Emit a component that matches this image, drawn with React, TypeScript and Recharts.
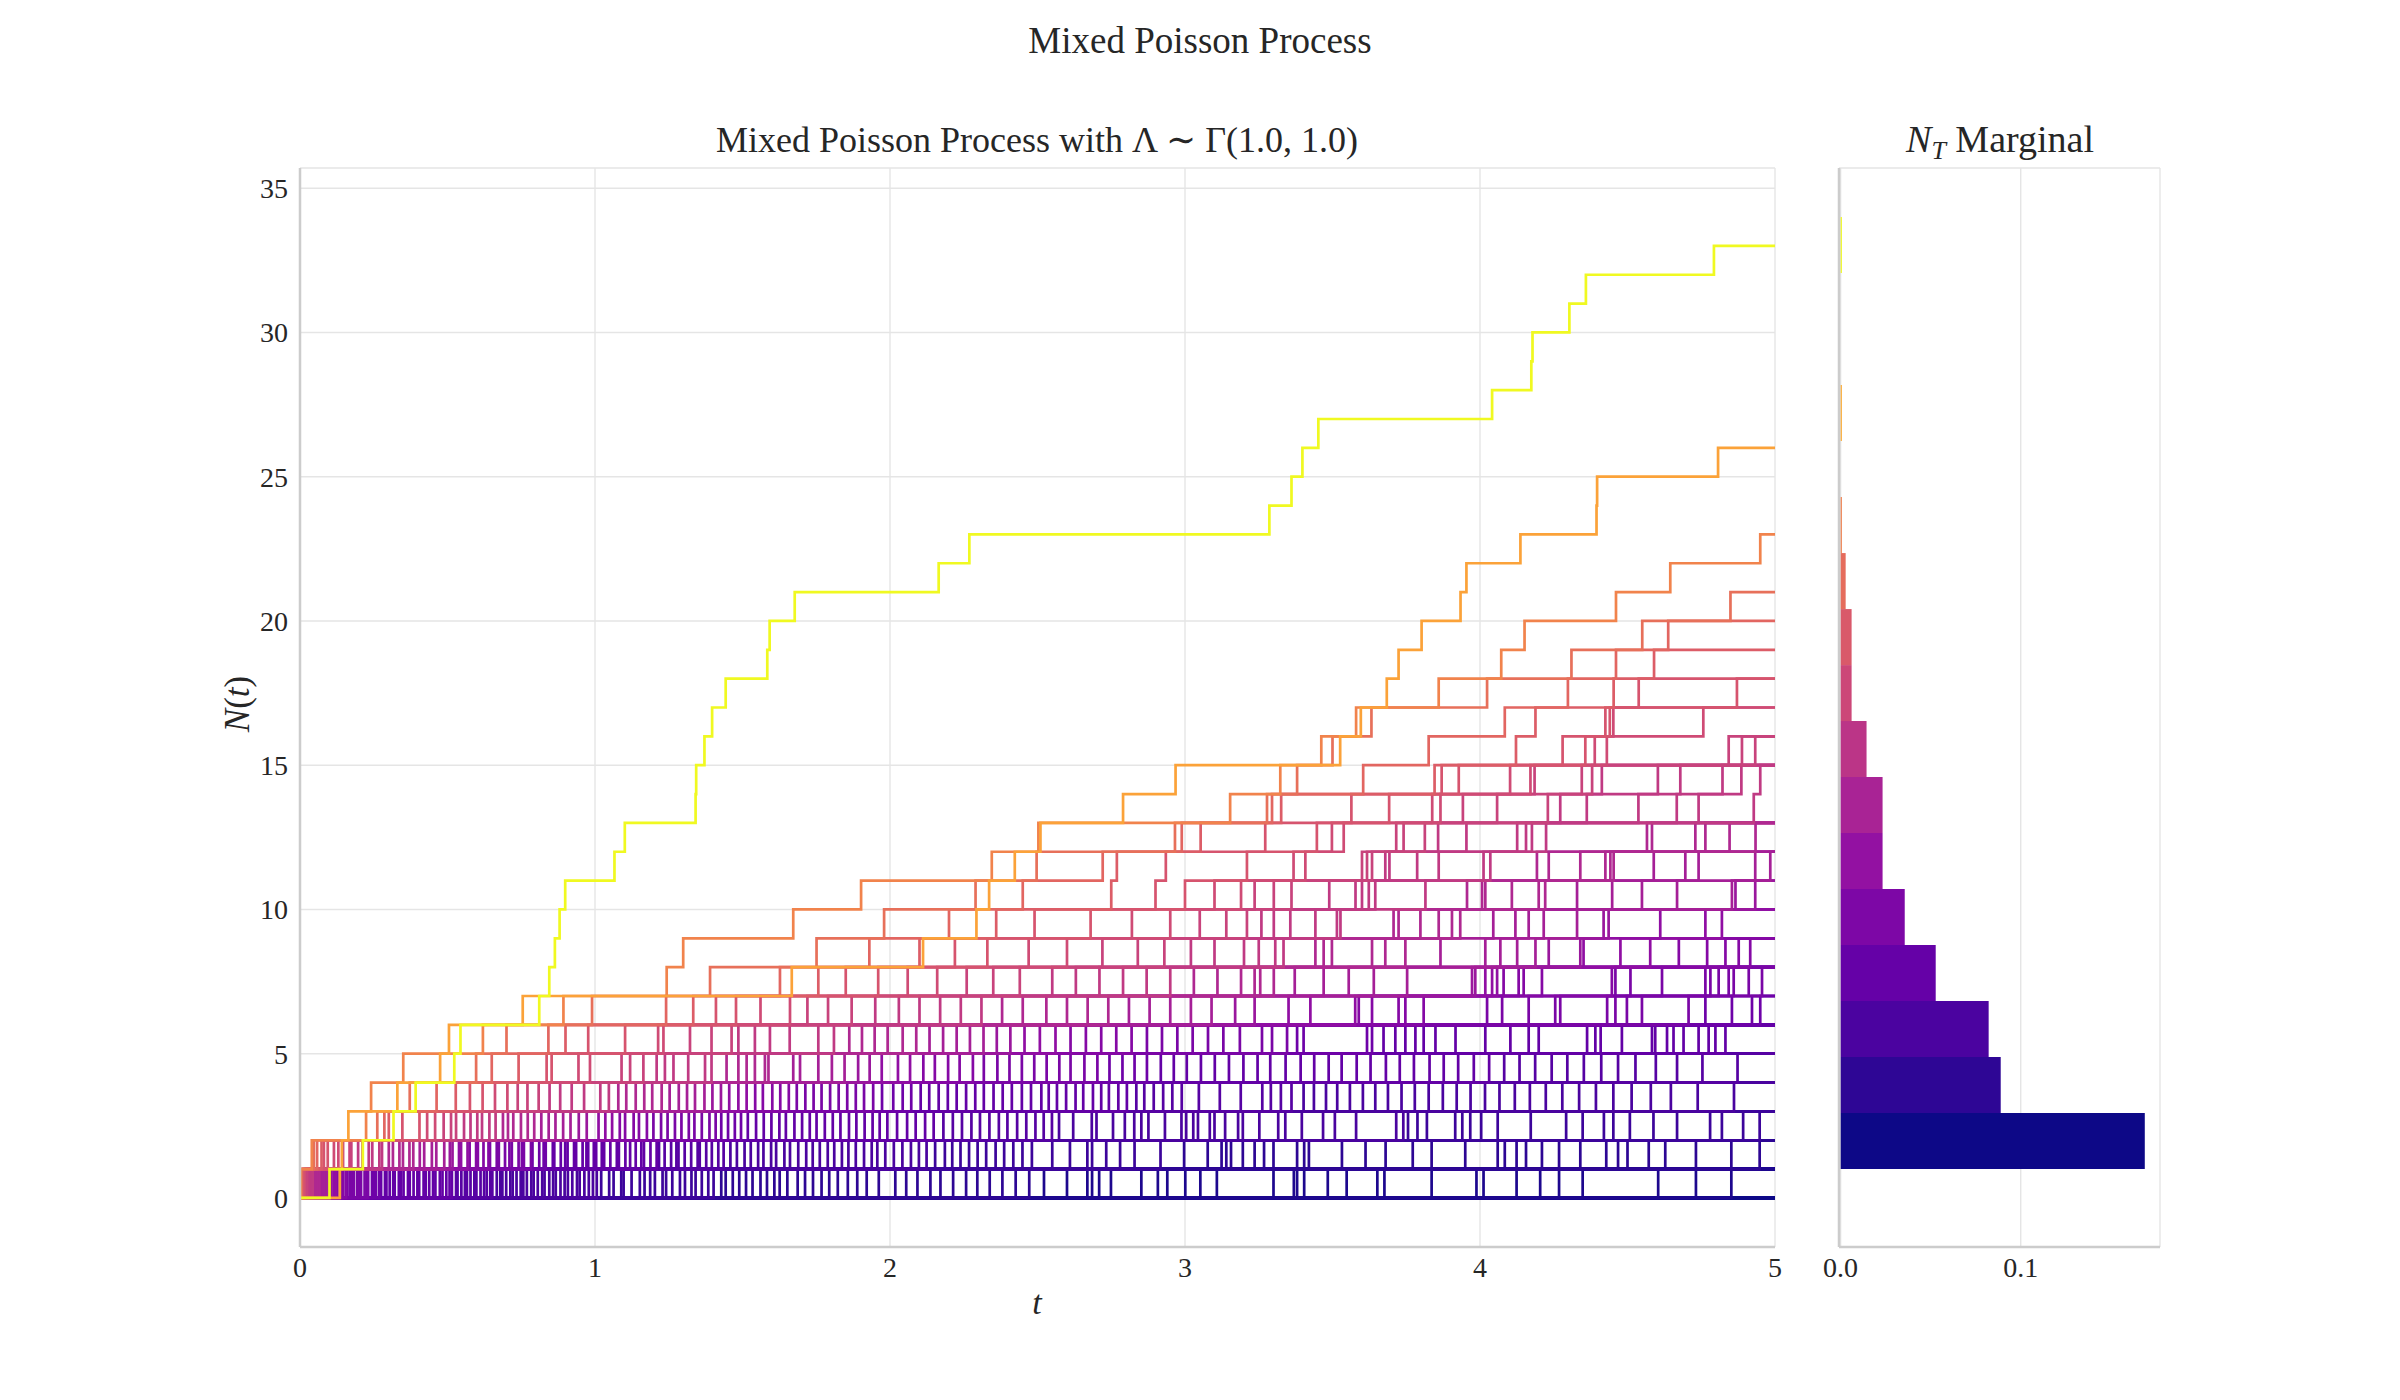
import React from 'react';
import { LineChart, Line, XAxis, YAxis, CartesianGrid, ComposedChart, ReferenceArea } from 'recharts';

const FONT = '"Liberation Serif", "DejaVu Serif", serif';
const T_END = 5;

// Two sample paths followed on their own (jump times of N(t)).
const yellowPathJumps = [0.10, 0.213, 0.317, 0.392, 0.523, 0.544, 0.811, 0.845, 0.864, 0.880, 0.899, 1.066, 1.101, 1.341, 1.343, 1.371, 1.397, 1.443, 1.584, 1.592, 1.677, 2.165, 2.269, 3.286, 3.361, 3.398, 3.452, 4.041, 4.174, 4.178, 4.303, 4.359, 4.793];
const orangePathJumps = [0.135, 0.142, 0.164, 0.33, 0.475, 0.505, 0.755, 1.667, 2.112, 2.293, 2.336, 2.423, 2.51, 2.79, 2.968, 3.526, 3.596, 3.684, 3.724, 3.802, 3.934, 3.954, 4.137, 4.395, 4.397, 4.807];

// Remaining paths: number that never jump, and the times at which some path steps from level k to k+1.
const flatPathCount = 40;
const up0 = [0.002,0.004,0.005,0.007,0.01,0.011,0.013,0.016,0.019,0.021,0.024,0.026,0.03,0.033,0.035,0.039,0.043,0.045,0.049,0.054,0.057,0.062,0.066,0.071,0.074,0.079,0.086,0.09,0.097,0.103,0.107,0.116,0.121,0.127,0.136,0.141,0.147,0.156,0.161,0.17,0.176,0.183,0.194,0.199,0.207,0.219,0.226,0.231,0.244,0.25,0.258,0.269,0.275,0.288,0.293,0.304,0.316,0.321,0.335,0.342,0.351,0.366,0.372,0.385,0.398,0.404,0.419,0.426,0.438,0.451,0.459,0.474,0.483,0.496,
  0.507,0.515,0.529,0.534,0.547,0.559,0.566,0.578,0.591,0.598,0.612,0.624,0.633,0.645,0.652,0.667,0.679,0.686,0.699,0.713,0.721,0.734,0.748,0.757,0.769,0.784,0.792,0.806,0.821,0.829,0.845,0.858,0.867,0.883,0.897,0.908,0.923,0.939,0.948,0.964,0.979,0.993,
  1.006,1.021,1.048,1.063,1.089,1.097,1.124,1.152,1.168,1.187,1.203,1.229,1.241,1.262,1.288,1.305,1.327,1.341,1.362,1.384,1.402,1.428,1.443,1.467,1.489,
  1.512,1.534,1.561,1.583,1.608,1.626,1.652,1.687,1.712,1.739,1.768,1.794,1.823,1.857,1.889,1.921,1.962,
  2.018,2.055,2.093,2.137,2.171,2.214,2.258,2.296,2.338,2.381,2.426,2.472,
  2.522,2.6,2.669,2.685,2.709,2.749,2.852,2.908,2.94,3.001,3.052,3.108,3.3,3.369,3.38,3.404,3.484,3.548,3.652,3.676,3.836,3.988,4.012,4.124,4.204,4.268,4.348,4.604,4.732,4.852];
const up1 = [0.04,0.047,0.058,0.073,0.081,0.094,0.115,0.13,0.146,0.168,0.174,0.197,0.212,0.233,0.245,0.269,0.278,0.301,0.315,0.337,0.349,0.371,0.384,0.406,0.421,0.447,0.462,0.489,
  0.508,0.517,0.539,0.546,0.568,0.575,0.597,0.603,0.622,0.639,0.644,0.667,0.674,0.695,0.71,0.718,0.741,0.752,0.759,0.783,0.788,0.811,0.826,0.833,0.857,0.862,0.884,0.899,0.907,0.929,0.936,0.958,0.971,0.977,0.996,
  1.004,1.023,1.031,1.052,1.074,1.081,1.103,1.119,1.138,1.157,1.166,1.188,1.209,1.217,1.236,1.258,1.276,1.283,1.304,1.326,1.348,1.355,1.377,1.396,1.418,1.436,1.459,1.481,
  1.507,1.528,1.553,1.571,1.597,1.614,1.642,1.661,1.689,1.716,1.738,1.762,1.789,1.811,1.837,1.859,1.884,1.912,1.938,1.957,1.984,
  2.013,2.042,2.071,2.098,2.124,2.153,2.186,2.211,2.239,2.268,2.297,2.326,2.358,2.387,2.418,2.449,2.481,
  2.55,2.61,2.669,2.685,2.733,2.78,2.829,2.917,2.997,3.077,3.124,3.14,3.156,3.196,3.236,3.268,3.3,3.38,3.404,3.42,3.532,3.612,3.68,3.772,3.836,3.95,4.06,4.084,4.124,4.156,4.21,4.268,4.34,4.428,4.468,4.5,4.572,4.628,4.732,4.852,4.948];
const up2 = [0.224,0.262,0.286,0.301,0.347,0.405,0.431,0.458,0.487,
  0.512,0.529,0.556,0.578,0.601,0.617,0.642,0.663,0.688,0.705,0.723,0.749,0.772,0.794,0.818,0.843,0.866,0.892,0.917,0.945,0.972,
  1.012,1.035,1.058,1.084,1.102,1.131,1.149,1.176,1.198,1.224,1.246,1.271,1.293,1.318,1.337,1.362,1.388,1.409,1.428,1.451,1.474,1.495,
  1.518,1.546,1.572,1.598,1.625,1.647,1.676,1.702,1.728,1.751,1.779,1.806,1.832,1.861,1.886,1.914,1.941,1.965,1.991,
  2.024,2.058,2.087,2.119,2.148,2.181,2.213,2.244,2.276,2.305,2.337,2.369,2.398,2.431,2.462,2.493,
  2.521,2.549,2.573,2.621,2.684,2.7,2.756,2.796,2.828,2.852,2.876,2.932,2.988,3.004,3.028,3.044,3.084,3.1,3.136,3.18,3.196,3.252,3.316,3.34,3.396,3.468,3.508,3.58,3.716,3.74,3.756,3.788,3.82,3.916,3.94,3.967,4.004,4.06,4.172,4.292,4.348,4.42,4.452,4.508,4.588,4.668,4.78,4.82,4.892,4.948];
const up3 = [0.241,0.372,0.463,
  0.528,0.576,0.619,0.661,0.703,0.738,0.771,0.809,0.846,0.882,0.921,0.963,
  1.018,1.047,1.079,1.106,1.138,1.167,1.194,1.226,1.253,1.284,1.312,1.339,1.371,1.398,1.427,1.455,1.486,
  1.514,1.543,1.569,1.601,1.628,1.657,1.684,1.713,1.741,1.768,1.797,1.826,1.855,1.884,1.912,1.943,1.973,
  2.011,2.043,2.072,2.104,2.133,2.165,2.196,2.226,2.258,2.289,2.318,2.351,2.382,2.413,2.447,2.478,
  2.513,2.538,2.566,2.597,2.629,2.655,2.688,2.716,2.742,2.774,2.803,2.835,2.862,2.894,2.926,2.957,2.989,3.047,3.118,3.189,
  3.262,3.291,3.325,3.361,3.402,3.437,3.478,3.516,3.559,3.603,3.645,3.688,3.734,3.779,3.826,3.874,3.921,3.968,4.017,4.066,4.118,4.169,4.223,4.279,4.336,4.393,4.452,4.514,4.579,4.647,4.738,4.861];
const up4 = [0.35,
  0.597,0.65,0.741,0.836,0.853,0.944,0.983,
  1.09,1.119,1.164,1.209,1.237,1.266,1.316,1.373,1.395,1.446,1.486,
  1.514,1.542,1.576,1.588,1.672,1.695,1.757,1.803,1.846,1.892,1.931,1.972,
  2.027,2.068,2.113,2.152,2.197,2.236,2.281,2.318,2.364,2.405,2.447,2.489,
  2.531,2.574,2.612,2.659,2.703,2.744,2.788,2.829,2.871,2.918,2.962,3.006,3.054,3.101,3.149,3.198,
  3.246,3.289,3.341,3.392,3.438,3.487,3.531,3.582,3.629,3.681,3.728,3.776,3.829,3.877,3.926,3.979,4.031,4.082,4.134,4.187,4.243,4.296,4.352,4.411,4.468,4.527,4.596,4.668,4.754,4.873];
const up5 = [0.62,0.7,0.842,0.9,0.977,
  1.102,1.214,1.232,1.322,1.395,1.463,1.486,
  1.542,1.593,1.66,1.757,1.81,1.862,1.905,1.948,1.992,
  2.043,2.089,2.134,2.18,2.226,2.271,2.317,2.362,2.408,2.456,
  2.508,2.561,2.612,2.664,2.716,2.767,2.819,2.871,2.922,2.974,3.026,3.078,3.13,3.186,
  3.261,3.295,3.346,3.38,3.402,3.617,3.634,3.673,3.713,3.747,3.781,3.809,3.849,3.917,4.018,4.103,4.165,4.199,4.363,4.391,4.409,4.481,4.583,4.594,4.634,4.656,4.69,4.741,4.775,4.798,4.832];
const up6 = [0.893,0.99,
  1.241,1.333,1.41,1.478,
  1.561,1.661,1.72,1.79,1.87,1.95,
  2.03,2.1,2.17,2.24,2.31,2.38,2.45,
  2.53,2.6,2.67,2.74,2.81,2.88,2.95,3.02,3.09,3.17,
  3.236,3.351,3.425,3.577,3.589,3.634,3.724,3.747,3.809,4.024,4.075,4.165,4.255,4.272,4.431,4.459,4.498,4.549,4.707,4.764,4.854,4.922,4.95];
const up7 = [1.243,1.39,
  1.627,1.757,1.85,1.96,
  2.06,2.16,2.26,2.35,2.44,
  2.55,2.63,2.71,2.79,2.87,2.95,3.03,3.11,3.19,
  3.236,3.255,3.301,3.372,3.47,3.555,3.64,3.753,3.973,3.984,4.018,4.041,4.058,4.08,4.131,4.148,4.21,4.447,4.459,4.51,4.617,4.764,4.781,4.809,4.843,4.86,4.911,4.956];
const up8 = [1.299,1.751,1.93,
  2.1,2.22,2.33,2.47,
  2.6,2.72,2.84,2.93,3.02,3.1,3.2,
  3.25,3.306,3.334,3.442,3.47,3.498,3.634,3.679,3.747,3.866,4.018,4.069,4.126,4.188,4.233,4.34,4.351,4.476,4.577,4.674,4.77,4.832,4.877,4.916];
const up9 = [1.672,1.98,
  2.2,2.36,2.49,
  2.68,2.82,2.95,3.05,3.14,3.21,
  3.259,3.301,3.357,3.442,3.515,3.527,3.707,3.724,3.798,3.86,3.905,3.933,4.045,4.12,4.165,4.216,4.329,4.419,4.436,4.611,4.764,4.82];
const up10 = [1.902,2.29,2.45,
  2.75,2.9,3.0,3.1,3.19,
  3.236,3.301,3.361,3.489,3.578,3.6,3.623,3.645,3.815,3.956,4.007,4.018,4.108,4.199,4.221,4.329,4.448,4.549,4.668,4.854,4.866,4.933];
const up11 = [2.345,2.497,2.721,2.769,2.935,3.21,3.368,3.408,3.6,3.617,3.634,3.679,3.693,3.787,3.86,4.012,4.035,4.193,4.233,4.34,4.425,4.442,4.453,4.589,4.696,4.741,4.933,4.984];
const up12 = [2.503,2.966,2.989,3.053,3.272,3.447,3.498,3.538,3.716,3.741,3.813,3.858,3.954,4.126,4.156,4.176,4.224,4.566,4.583,4.73,4.764,4.846,4.934];
const up13 = [3.153,3.278,3.295,3.326,3.564,3.692,3.838,3.866,3.942,4.058,4.23,4.272,4.362,4.537,4.667,4.741,4.928];
const up14 = [3.323,3.38,3.604,3.846,3.87,3.928,4.102,4.171,4.185,4.345,4.38,4.413,4.603,4.679,4.822,4.886,4.95];
const up15 = [3.462,3.5,3.826,4.122,4.28,4.357,4.389,4.43,4.843,4.888,4.933];
const up16 = [3.58,3.632,4.084,4.188,4.425,4.44,4.452,4.757];
const up17 = [3.86,4.024,4.298,4.453,4.538,4.871];
const up18 = [4.072,4.31,4.461,4.59];
const up19 = [4.151,4.55,4.638];
const up20 = [4.461,4.849];
const up21 = [4.645];
const up22 = [4.95];

// Marginal histogram of N_T: density per bin over [1, 34] with 17 bins.
const marginalRange = [1, 34];
const marginalDensity = [0.1689, 0.0889, 0.0822, 0.0528, 0.0356, 0.0233, 0.0233, 0.0144, 0.0061, 0.0061, 0.0028, 0.0007, 0, 0.0007, 0, 0, 0.0007];

const xTicks = [0, 1, 2, 3, 4, 5];
const yTicks = [0, 5, 10, 15, 20, 25, 30, 35];
const marginalTicks = [0, 0.1];

const PLASMA = ['#0d0887', '#41049d', '#6a00a8', '#8f0da4', '#b12a90', '#cc4778', '#e16462', '#f2844b', '#fca636', '#fcce25', '#f0f921'];

function plasma(x: number): string {
  const v = Math.min(1, Math.max(0, x)) * (PLASMA.length - 1);
  const i = Math.min(PLASMA.length - 2, Math.floor(v));
  const f = v - i;
  const a = PLASMA[i], b = PLASMA[i + 1];
  const ch = (h: string, k: number) => parseInt(h.slice(1 + 2 * k, 3 + 2 * k), 16);
  const mix = (k: number) => Math.round(ch(a, k) + (ch(b, k) - ch(a, k)) * f);
  return `rgb(${mix(0)},${mix(1)},${mix(2)})`;
}

// Chain the level crossings into sample paths: at every level the path that
// arrived first is the first one to take the next step.
function chainPaths(levels: number[][]): number[][] {
  const paths: number[][] = [];
  let current: number[][] = [];
  levels.forEach((ups, k) => {
    const sorted = [...ups].sort((a, b) => a - b);
    if (k === 0) {
      current = sorted.map((t) => {
        const p = [t];
        paths.push(p);
        return p;
      });
      return;
    }
    const avail = current.slice();
    const next: number[][] = [];
    for (const v of sorted) {
      const idx = avail.findIndex((p) => p[p.length - 1] < v);
      if (idx < 0) continue;
      const p = avail.splice(idx, 1)[0];
      p.push(v);
      next.push(p);
    }
    current = next;
  });
  return paths;
}

const levelCrossings = [up0, up1, up2, up3, up4, up5, up6, up7, up8, up9, up10, up11, up12, up13, up14, up15, up16, up17, up18, up19, up20, up21, up22];

const backgroundPaths = [
  ...Array.from({ length: flatPathCount }, () => [] as number[]),
  ...chainPaths(levelCrossings),
].sort((a, b) => a.length - b.length);

const allPaths = [...backgroundPaths, orangePathJumps, yellowPathJumps];
const maxCount = Math.max(...allPaths.map((p) => p.length));

function toSeries(jumps: number[]) {
  const pts = [{ t: 0, n: 0 }];
  jumps.forEach((t, i) => pts.push({ t, n: i + 1 }));
  pts.push({ t: T_END, n: jumps.length });
  return pts;
}

const seriesList = allPaths.map((jumps) => ({ data: toSeries(jumps), color: plasma(jumps.length / maxCount) }));

const binWidth = (marginalRange[1] - marginalRange[0]) / marginalDensity.length;
const marginalBins = marginalDensity.map((d, i) => ({
  lo: marginalRange[0] + i * binWidth,
  hi: marginalRange[0] + (i + 1) * binWidth,
  density: d,
  color: plasma(i / (marginalDensity.length - 1)),
}));
const maxDensity = Math.max(...marginalDensity);

const Y_DOMAIN: [number, number] = [-1.7, 35.7];
const tickStyle = { fontSize: 28, fill: '#262626', fontFamily: FONT };
const spine = { stroke: '#cccccc', strokeWidth: 2.5 };

export default function App() {
  return (
    <div style={{ position: 'absolute', left: 0, top: 0, width: 2400, height: 1400, background: '#ffffff' }}>
      <div style={{ position: 'absolute', left: 0, top: 0 }}>
        <LineChart width={1800} height={1400} margin={{ top: 168, right: 25, bottom: 93, left: 220 }}>
          <CartesianGrid stroke="#e5e5e5" strokeWidth={1.4} />
          <XAxis
            type="number"
            dataKey="t"
            domain={[0, T_END]}
            ticks={xTicks}
            allowDataOverflow
            height={60}
            tickLine={false}
            tickSize={0}
            tickMargin={10}
            axisLine={spine}
            tick={tickStyle}
          />
          <YAxis
            type="number"
            dataKey="n"
            domain={Y_DOMAIN}
            ticks={yTicks}
            allowDataOverflow
            width={80}
            tickLine={false}
            tickSize={0}
            tickMargin={12}
            axisLine={spine}
            tick={tickStyle}
          />
          {seriesList.map((s, i) => (
            <Line
              key={i}
              data={s.data}
              dataKey="n"
              type="stepAfter"
              stroke={s.color}
              strokeWidth={2.7}
              dot={false}
              activeDot={false}
              isAnimationActive={false}
            />
          ))}
        </LineChart>
      </div>
      <div style={{ position: 'absolute', left: 1800, top: 0 }}>
        <ComposedChart width={400} height={1400} data={marginalBins} margin={{ top: 168, right: 40, bottom: 93, left: 38 }}>
          <CartesianGrid stroke="#e5e5e5" strokeWidth={1.4} />
          <XAxis
            type="number"
            dataKey="density"
            domain={[-0.0009, maxDensity * 1.05]}
            ticks={marginalTicks}
            allowDataOverflow
            height={60}
            tickLine={false}
            tickSize={0}
            tickMargin={10}
            axisLine={spine}
            tick={tickStyle}
            tickFormatter={(v: number) => v.toFixed(1)}
          />
          <YAxis
            type="number"
            dataKey="lo"
            domain={Y_DOMAIN}
            ticks={yTicks}
            allowDataOverflow
            width={1}
            tick={false}
            tickLine={false}
            axisLine={spine}
          />
          {marginalBins
            .filter((b) => b.density > 0)
            .map((b, i) => (
              <ReferenceArea
                key={i}
                x1={0}
                x2={b.density}
                y1={b.lo}
                y2={b.hi}
                fill={b.color}
                fillOpacity={1}
                stroke="none"
                ifOverflow="visible"
              />
            ))}
        </ComposedChart>
      </div>
      <svg width={2400} height={1400} style={{ position: 'absolute', left: 0, top: 0, pointerEvents: 'none' }}>
        <g fontFamily={FONT} fill="#262626">
          <text x={1200} y={53} fontSize={37} textAnchor="middle">Mixed Poisson Process</text>
          <text x={1037} y={152} fontSize={36} textAnchor="middle">
            Mixed Poisson Process with Λ ∼ Γ(1.0, 1.0)
          </text>
          <text x={2000} y={152} fontSize={38} textAnchor="middle">
            <tspan fontStyle="italic">N</tspan>
            <tspan fontStyle="italic" fontSize={26} dy={7}>T</tspan>
            <tspan dy={-7}> Marginal</tspan>
          </text>
          <text x={1037} y={1314} fontSize={34} fontStyle="italic" textAnchor="middle">t</text>
          <text x={0} y={0} fontSize={35} textAnchor="middle" dominantBaseline="central" transform="translate(237 704) rotate(-90)">
            <tspan fontStyle="italic">N</tspan>(<tspan fontStyle="italic">t</tspan>)
          </text>
        </g>
      </svg>
    </div>
  );
}
